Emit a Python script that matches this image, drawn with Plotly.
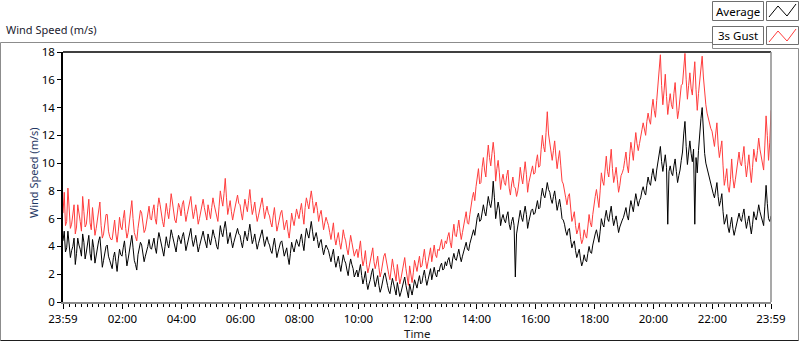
import pandas as pd
import plotly.graph_objects as go

# ---- data (2.5-minute samples, 23:59 -> 23:59; one row per hour) ----
average_speed = [
    4.4, 5.1, 3.6, 3.9, 5.1, 4.2, 3.2, 3.7, 4.0, 4.6, 2.7, 3.5, 4.6, 4.1, 3.8, 3.3, 4.9, 4.3, 3.1, 3.6, 4.2, 4.8, 3.5, 3.0,
    4.5, 3.9, 2.8, 3.4, 3.9, 4.4, 4.7, 3.6, 2.5, 3.0, 3.4, 4.0, 4.1, 3.3, 3.0, 2.6, 2.4, 3.2, 3.6, 2.9, 2.2, 3.1, 3.8, 3.4,
    3.3, 3.9, 4.4, 3.5, 2.6, 3.1, 3.7, 4.2, 4.8, 3.9, 3.0, 2.7, 2.3, 3.4, 3.9, 4.3, 4.1, 3.5, 2.9, 3.3, 3.6, 4.0, 4.5, 3.9,
    3.8, 4.3, 4.6, 3.9, 3.5, 4.4, 5.0, 4.6, 4.1, 3.7, 3.3, 4.0, 4.7, 4.2, 3.9, 4.5, 5.2, 4.8, 4.4, 3.8, 3.6, 4.3, 4.8, 4.5,
    4.2, 4.7, 5.0, 4.4, 3.7, 4.1, 4.6, 5.0, 5.3, 4.5, 4.0, 4.4, 4.8, 4.2, 3.6, 4.0, 4.4, 4.9, 5.1, 4.6, 4.3, 3.9, 4.9, 4.5,
    4.1, 4.6, 5.2, 4.8, 4.5, 4.0, 3.8, 4.6, 5.5, 5.0, 4.7, 5.3, 5.8, 5.1, 4.2, 4.6, 5.0, 4.4, 3.9, 4.3, 4.6, 5.0, 5.3, 4.9,
    4.8, 4.3, 3.9, 4.5, 5.1, 4.7, 4.4, 5.0, 5.6, 4.9, 4.2, 4.5, 4.9, 4.3, 3.8, 4.2, 4.5, 4.9, 5.2, 4.6, 4.0, 4.4, 4.7, 4.3,
    4.1, 3.7, 3.5, 4.1, 4.6, 3.9, 3.2, 3.6, 4.0, 4.3, 4.4, 3.8, 3.3, 3.6, 3.9, 3.2, 2.7, 3.5, 4.3, 3.9, 3.6, 4.1, 4.5, 4.2,
    4.0, 4.5, 4.9, 4.2, 3.7, 4.6, 5.3, 4.9, 4.6, 5.2, 5.8, 5.1, 4.4, 4.7, 5.0, 4.5, 3.9, 4.3, 4.5, 3.9, 3.4, 3.8, 4.1, 3.9,
    3.7, 3.3, 2.9, 3.4, 3.8, 3.0, 2.5, 2.9, 3.3, 2.7, 2.2, 2.8, 3.4, 3.0, 2.8, 2.3, 1.9, 2.6, 3.1, 2.7, 2.4, 1.8, 2.0, 2.3,
    1.8, 2.3, 2.7, 1.9, 1.3, 1.7, 2.2, 1.4, 0.9, 1.3, 1.6, 2.1, 2.4, 1.6, 1.1, 1.5, 1.9, 1.2, 0.7, 1.0, 1.5, 1.9, 2.1, 1.5,
    1.2, 0.8, 0.6, 1.2, 1.7, 1.3, 0.9, 0.5, 1.4, 1.0, 0.4, 0.7, 1.1, 1.5, 1.8, 1.2, 0.8, 0.3, 1.3, 0.9, 0.5, 1.0, 1.6, 1.3,
    1.0, 1.5, 1.9, 1.3, 1.4, 1.9, 2.3, 1.7, 1.2, 1.6, 2.0, 2.4, 1.6, 2.1, 2.5, 2.0, 1.8, 2.3, 2.2, 2.6, 2.8, 2.3, 2.4, 2.9,
    2.6, 3.0, 3.2, 2.7, 2.4, 3.1, 3.5, 3.1, 3.0, 3.4, 3.8, 3.3, 2.9, 3.3, 3.6, 4.0, 4.3, 3.8, 3.7, 4.2, 4.6, 4.9, 5.2, 4.8,
    5.6, 6.1, 6.4, 5.8, 5.9, 6.6, 7.0, 6.5, 6.2, 6.9, 7.6, 7.1, 6.8, 7.4, 8.7, 7.5, 6.0, 6.6, 7.2, 6.7, 5.5, 6.0, 6.3, 5.9,
    5.7, 6.2, 6.5, 5.6, 5.2, 5.8, 6.1, 5.5, 1.8, 4.9, 5.4, 5.9, 6.6, 6.1, 5.8, 6.4, 6.9, 6.3, 5.3, 5.8, 6.2, 6.6, 6.7, 6.3,
    6.4, 7.0, 7.3, 6.7, 6.8, 7.6, 8.2, 7.7, 7.5, 8.0, 8.6, 8.1, 7.9, 7.4, 7.1, 7.6, 8.0, 7.3, 6.6, 7.0, 7.4, 6.8, 6.0, 5.9,
    5.6, 5.1, 4.8, 5.2, 5.3, 4.5, 3.9, 4.2, 4.4, 3.7, 3.2, 3.5, 3.8, 3.1, 2.6, 2.9, 3.4, 3.0, 2.9, 3.5, 4.0, 3.6, 3.5, 4.1,
    4.6, 4.9, 5.2, 4.7, 4.3, 5.1, 6.0, 5.6, 5.4, 6.1, 6.6, 6.0, 5.8, 6.4, 6.9, 6.1, 5.5, 5.9, 6.2, 5.6, 5.0, 5.4, 5.7, 5.9,
    6.1, 6.5, 6.8, 6.2, 5.9, 6.7, 7.3, 6.9, 6.5, 7.2, 7.8, 7.3, 6.9, 7.3, 7.5, 8.0, 8.3, 7.9, 7.7, 8.4, 9.0, 8.6, 8.4, 9.1,
    9.6, 9.0, 8.7, 9.5, 10.2, 10.8, 11.2, 10.1, 9.4, 10.0, 10.6, 9.7, 5.6, 9.4, 9.8, 9.3, 9.1, 9.8, 10.3, 9.4, 8.6, 9.1, 9.5, 10.2,
    10.8, 12.1, 13.0, 11.2, 9.9, 10.8, 11.6, 10.7, 10.1, 11.0, 5.6, 10.4, 9.3, 10.9, 12.4, 13.2, 14.0, 12.1, 10.7, 10.0, 9.6, 9.2, 8.9, 8.5,
    8.2, 7.8, 7.5, 8.1, 8.6, 7.6, 6.9, 7.3, 7.8, 6.5, 5.6, 5.9, 6.3, 5.4, 5.0, 5.6, 6.1, 5.3, 4.8, 5.2, 5.7, 6.0, 6.4, 6.0,
    5.8, 6.3, 6.7, 5.9, 5.3, 5.8, 6.2, 5.5, 4.9, 5.6, 6.5, 6.1, 5.9, 6.4, 7.0, 6.5, 6.1, 5.8, 5.5, 6.9, 8.4, 7.1, 6.0, 5.8,
    6.2,
]

gust_speed = [
    6.4, 7.9, 5.5, 5.8, 8.2, 6.3, 5.3, 5.6, 6.3, 7.0, 4.9, 5.4, 7.0, 6.2, 5.8, 5.1, 7.6, 6.5, 5.4, 5.6, 6.5, 7.4, 5.7, 5.2,
    6.8, 5.9, 4.8, 5.3, 6.0, 6.6, 7.2, 5.5, 4.6, 4.9, 5.5, 6.3, 6.3, 5.1, 4.7, 4.5, 4.5, 5.2, 5.9, 4.9, 4.3, 5.1, 6.1, 5.4,
    5.2, 6.0, 6.6, 5.3, 4.6, 5.0, 5.7, 6.4, 7.3, 6.0, 5.0, 4.7, 4.4, 5.3, 5.9, 6.6, 6.4, 5.5, 5.0, 5.2, 5.8, 6.2, 6.9, 6.0,
    5.9, 6.6, 7.0, 6.0, 5.6, 6.8, 7.5, 7.0, 6.3, 5.8, 5.4, 6.1, 7.1, 6.5, 6.0, 6.8, 7.8, 7.2, 6.6, 5.9, 5.7, 6.5, 7.1, 6.8,
    6.2, 7.0, 7.3, 6.5, 5.8, 6.3, 6.7, 7.3, 7.6, 6.7, 6.0, 6.5, 7.0, 6.4, 5.6, 6.0, 6.5, 7.2, 7.4, 6.8, 6.3, 5.9, 7.0, 6.6,
    6.0, 6.8, 7.5, 7.0, 6.6, 6.0, 5.8, 6.9, 8.0, 7.4, 6.9, 7.8, 8.9, 7.5, 6.3, 6.8, 7.3, 6.5, 5.9, 6.4, 6.8, 7.3, 7.7, 7.1,
    7.0, 6.4, 5.9, 6.7, 7.4, 6.9, 6.5, 7.3, 8.1, 7.1, 6.3, 6.7, 7.2, 6.4, 5.8, 6.2, 6.6, 7.2, 7.5, 6.8, 6.0, 6.5, 6.9, 6.4,
    6.2, 5.7, 5.4, 6.2, 6.8, 5.9, 5.1, 5.5, 6.0, 6.4, 6.6, 5.8, 5.2, 5.6, 5.9, 5.1, 4.6, 5.4, 6.4, 5.9, 5.5, 6.1, 6.7, 6.3,
    6.0, 6.6, 7.1, 6.3, 5.6, 6.8, 7.5, 7.1, 6.7, 7.4, 8.0, 7.3, 6.4, 6.9, 7.2, 6.6, 5.8, 6.3, 6.6, 5.9, 5.2, 5.7, 6.1, 5.8,
    5.5, 5.0, 4.5, 5.1, 5.7, 4.6, 4.1, 4.6, 5.0, 4.3, 3.8, 4.4, 5.2, 4.7, 4.4, 3.8, 3.4, 4.1, 4.8, 4.3, 3.9, 3.3, 3.6, 3.8,
    3.2, 3.8, 4.4, 3.3, 2.6, 3.0, 3.7, 2.7, 2.1, 2.5, 3.0, 3.6, 3.9, 2.9, 2.4, 2.8, 3.3, 2.5, 1.8, 2.2, 2.8, 3.3, 3.5, 2.9,
    2.5, 2.0, 1.6, 2.4, 3.1, 2.5, 2.0, 1.5, 2.7, 2.1, 1.3, 1.7, 2.3, 2.8, 3.2, 2.4, 1.8, 1.2, 2.6, 2.0, 1.4, 2.1, 3.0, 2.6,
    2.2, 2.8, 3.3, 2.5, 2.6, 3.2, 3.8, 3.0, 2.4, 2.9, 3.5, 3.9, 2.9, 3.5, 4.1, 3.4, 3.2, 3.8, 3.7, 4.1, 4.5, 3.8, 3.9, 4.4,
    4.2, 4.7, 5.0, 4.3, 3.9, 4.9, 5.6, 4.8, 4.7, 5.3, 5.9, 5.1, 4.5, 5.0, 5.5, 6.1, 6.5, 5.7, 5.6, 6.3, 7.0, 7.5, 7.9, 7.3,
    8.3, 9.0, 9.6, 8.5, 8.6, 9.7, 10.4, 9.5, 9.0, 10.3, 11.3, 10.4, 9.8, 10.7, 11.5, 10.6, 8.7, 9.6, 10.2, 9.3, 8.1, 8.8, 9.2, 8.6,
    8.4, 9.1, 9.5, 8.2, 7.7, 8.5, 9.0, 8.3, 8.2, 7.6, 8.0, 8.7, 9.7, 9.0, 8.5, 9.3, 10.1, 9.2, 7.9, 8.6, 9.1, 9.6, 9.8, 9.2,
    9.3, 10.1, 10.6, 9.7, 9.8, 11.0, 12.0, 11.2, 10.8, 12.2, 13.7, 12.1, 11.4, 10.6, 10.2, 10.9, 11.6, 10.5, 9.6, 10.3, 10.9, 9.8, 8.7, 8.5,
    8.1, 7.5, 7.0, 7.6, 7.8, 6.6, 5.8, 6.1, 6.5, 5.5, 4.9, 5.2, 5.7, 4.7, 4.2, 4.5, 5.2, 4.8, 4.6, 5.4, 6.3, 5.7, 5.4, 6.3,
    7.2, 7.6, 8.1, 7.3, 6.8, 8.0, 9.3, 8.7, 8.4, 9.5, 10.5, 9.4, 9.0, 10.0, 11.0, 9.6, 8.6, 9.1, 9.7, 8.8, 7.9, 8.4, 9.1, 9.3,
    9.6, 10.2, 10.8, 9.8, 9.3, 10.5, 11.5, 10.9, 10.2, 11.3, 12.2, 11.4, 10.9, 11.4, 11.8, 12.4, 12.9, 12.3, 12.0, 13.0, 13.6, 13.1, 12.8, 13.9,
    14.6, 13.8, 13.3, 14.5, 15.5, 16.6, 17.8, 15.6, 14.2, 15.2, 16.4, 14.8, 13.5, 14.3, 15.0, 14.2, 13.9, 15.0, 15.8, 14.4, 13.2, 13.8, 14.5, 15.6,
    15.7, 17.0, 17.9, 16.0, 14.6, 15.6, 16.5, 15.4, 14.9, 16.2, 17.3, 15.3, 13.8, 15.0, 16.1, 17.0, 17.7, 16.2, 14.9, 14.2, 13.6, 13.2, 12.8, 12.5,
    12.3, 11.6, 11.2, 12.1, 12.9, 11.3, 10.4, 11.0, 11.6, 9.8, 8.4, 8.9, 9.6, 8.3, 7.9, 8.8, 10.3, 8.9, 8.2, 8.8, 9.5, 10.1, 10.8, 10.0,
    9.8, 10.5, 11.2, 9.9, 9.0, 9.8, 10.6, 9.5, 8.6, 9.7, 11.0, 10.4, 10.1, 10.9, 11.8, 11.0, 10.4, 9.9, 9.5, 11.3, 13.4, 12.0, 10.2, 11.5,
    13.8,
]

start_time = "2024-01-01 23:59"
end_time = "2024-01-02 23:59"
tick_times = ["2024-01-01 23:59", "2024-01-02 02:00", "2024-01-02 04:00",
              "2024-01-02 06:00", "2024-01-02 08:00", "2024-01-02 10:00",
              "2024-01-02 12:00", "2024-01-02 14:00", "2024-01-02 16:00",
              "2024-01-02 18:00", "2024-01-02 20:00", "2024-01-02 22:00",
              "2024-01-02 23:59"]
tick_labels = ["23:59", "02:00", "04:00", "06:00", "08:00", "10:00", "12:00",
               "14:00", "16:00", "18:00", "20:00", "22:00", "23:59"]
series_names = ["Average", "3s Gust"]

times_avg = pd.date_range(start_time, end_time, periods=len(average_speed))
times_gust = pd.date_range(start_time, end_time, periods=len(gust_speed))

W, H = 800, 342
L, R, T, B = 63, 771, 52, 302  # plot area in pixels
FONT = "Noto Sans"

def px(x):
    return (x - L) / (R - L)

def py(y):
    return (B - y) / (B - T)

fig = go.Figure()
fig.add_trace(go.Scatter(x=times_gust, y=gust_speed, mode="lines", name=series_names[1],
                         line=dict(color="#ff3c3c", width=1), showlegend=False))
fig.add_trace(go.Scatter(x=times_avg, y=average_speed, mode="lines", name=series_names[0],
                         line=dict(color="#000000", width=1), showlegend=False))

shapes = []
def line(x0, y0, x1, y1, color, width=1):
    shapes.append(dict(type="line", xref="paper", yref="paper",
                       x0=px(x0), y0=py(y0), x1=px(x1), y1=py(y1),
                       line=dict(color=color, width=width)))

def rect(x0, y0, x1, y1, color):
    shapes.append(dict(type="rect", xref="paper", yref="paper",
                       x0=px(x0), y0=py(y0), x1=px(x1), y1=py(y1),
                       line=dict(color=color, width=1), fillcolor="white"))

# outer frame
line(0.5, 42.5, 712.5, 42.5, "#8c8c8c")
line(712.5, 42.5, 712.5, 48.5, "#8c8c8c")
line(712.5, 48.5, 798.5, 48.5, "#8c8c8c")
line(798.5, 48.5, 798.5, 340.5, "#8c8c8c")
line(0.5, 42.5, 0.5, 340.5, "#8c8c8c")
line(0.5, 340.5, 798.5, 340.5, "#1e1e1e")

# plot frame (sunken look)
line(L, T, R, T, "#000000", 1.5)
line(R, T, R, B, "#8c8c8c", 1.5)

# legend boxes
rect(712.5, 1.5, 763.5, 20.5, "#6e6e6e")
rect(766.5, 1.5, 798.5, 20.5, "#6e6e6e")
rect(712.5, 26.5, 763.5, 44.5, "#6e6e6e")
rect(766.5, 26.5, 798.5, 44.5, "#6e6e6e")

def zig(y_off, color):
    pts = [(769, 17), (778, 6), (787, 16), (796, 4)]
    path = "M " + " L ".join(f"{px(a)},{py(b + y_off)}" for a, b in pts)
    shapes.append(dict(type="path", xref="paper", yref="paper", path=path,
                       line=dict(color=color, width=1)))

zig(0, "#000000")
zig(25, "#ff3c3c")

annotations = [
    dict(text="Wind Speed (m/s)", x=px(4), y=py(30), xref="paper", yref="paper",
         xanchor="left", yanchor="middle", showarrow=False,
         font=dict(family=FONT, size=11, color="#1a1a2e")),
    dict(text="Wind Speed (m/s)", x=px(33), y=py(173), xref="paper", yref="paper",
         xanchor="center", yanchor="middle", showarrow=False, textangle=-90,
         font=dict(family=FONT, size=11, color="#1f3764")),
    dict(text="Time", x=px(417), y=py(333), xref="paper", yref="paper",
         xanchor="center", yanchor="middle", showarrow=False,
         font=dict(family=FONT, size=11.5, color="#1a1a1a")),
    dict(text=series_names[0], x=px(738), y=py(11.5), xref="paper", yref="paper",
         xanchor="center", yanchor="middle", showarrow=False,
         font=dict(family=FONT, size=11.5, color="#000000")),
    dict(text=series_names[1], x=px(738), y=py(35.5), xref="paper", yref="paper",
         xanchor="center", yanchor="middle", showarrow=False,
         font=dict(family=FONT, size=11.5, color="#000000")),
]

fig.update_layout(
    width=W, height=H,
    margin=dict(l=L, r=W - R, t=T, b=H - B, pad=0),
    paper_bgcolor="white", plot_bgcolor="white",
    font=dict(family=FONT, size=12, color="#000000"),
    shapes=shapes, annotations=annotations, showlegend=False,
    xaxis=dict(range=[start_time, end_time], type="date",
               tickmode="array", tickvals=tick_times, ticktext=tick_labels,
               ticks="outside", ticklen=5, tickcolor="#000000", tickwidth=1,
               showgrid=False, zeroline=False,
               showline=True, linecolor="#8c8c8c", linewidth=1.5,
               tickfont=dict(family=FONT, size=11.5, color="#000000"),
               minor=dict(tickmode="linear", tick0="2024-01-02 00:00", dtick=720000,
                          ticks="outside", ticklen=3, tickcolor="#000000", showgrid=False)),
    yaxis=dict(range=[0, 18], tickmode="linear", tick0=0, dtick=2,
               ticks="outside", ticklen=4, tickcolor="#000000",
               showgrid=False, zeroline=False,
               showline=True, linecolor="#000000", linewidth=1.5,
               tickfont=dict(family=FONT, size=11.5, color="#000000")),
)

fig.write_html("out.html", config={"displayModeBar": False},
               post_script="document.body.style.margin='0px';")
